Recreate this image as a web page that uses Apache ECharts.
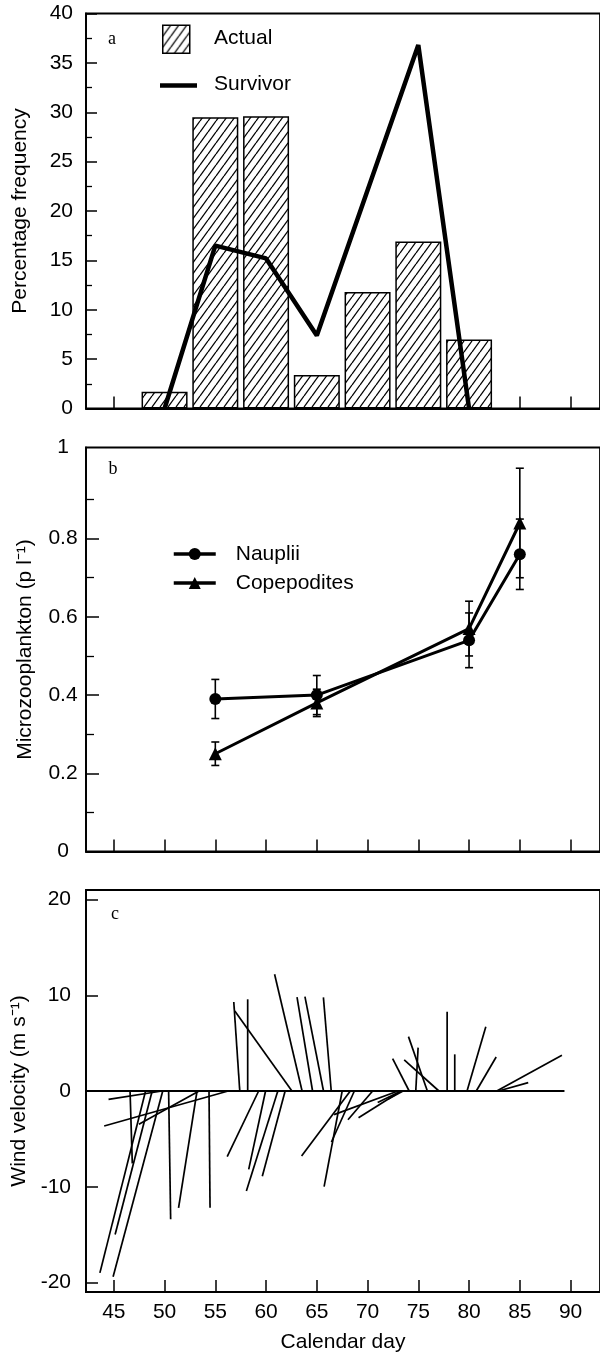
<!DOCTYPE html>
<html>
<head>
<meta charset="utf-8">
<script src="https://cdn.jsdelivr.net/npm/echarts@6/dist/echarts.min.js"></script>
<style>
html,body{margin:0;padding:0;background:#fff;}
#chart{width:600px;height:1354px;}
</style>
</head>
<body>
<div id="chart"></div>
<script>
// ---------- Panel a: percentage frequency ----------
const hatchDays = [50, 55, 60, 65, 70, 75, 80];
const actualPct = [1.7, 29.5, 29.6, 3.4, 11.8, 16.9, 7.0];
const survivorPct = [0, 16.5, 15.2, 7.4, 22.1, 36.8, 0];

// ---------- Panel b: microzooplankton ----------
const microDays = [55, 65, 80, 85];
const naupliiMean = [0.39, 0.40, 0.54, 0.76];
const naupliiErr = [0.05, 0.05, 0.07, 0.09];
const copeMean = [0.25, 0.38, 0.57, 0.84];
const copeErr = [0.03, 0.035, 0.07, 0.14];

// ---------- Panel c: wind sticks (origin day on zero line, tip day, tip speed) ----------
const stickBaseDay  = [49.75, 56.27, 53.4, 46.6, 48.13, 48.78, 49.82, 50.4, 53.2, 54.38,
                       57.41, 58.19, 62.55, 59.27, 59.95, 61.16, 61.88, 63.55, 64.58, 65.66, 66.42,
                       68.3, 67.5, 68.7, 73.0, 70.5, 73.3, 73.3, 73.5,
                       74.1, 75.89, 77.03, 74.75, 77.84, 78.59, 79.8, 80.71, 82.73, 82.9];
const stickTipDay   = [44.48, 44.05, 47.47, 46.82, 43.63, 45.13, 44.93, 50.6, 51.38, 54.48,
                       56.82, 58.19, 56.92, 56.17, 58.29, 58.06, 59.63, 60.84, 63.05, 63.83, 65.65,
                       63.5, 65.72, 66.44, 66.7, 68.07, 69.11, 71.0, 72.0,
                       72.47, 74.03, 73.61, 74.98, 77.84, 78.59, 81.65, 82.67, 89.15, 85.83];
const stickTipSpeed = [-0.87, -3.66, -3.48, -7.56, -19.0, -15.0, -19.4, -13.4, -12.2, -12.2,
                       9.3, 9.58, 8.36, -6.86, -8.19, -10.45, -8.9, 12.2, 9.8, 9.86, 9.78,
                       -6.8, -10.0, -5.33, -2.47, -3.0, -2.79, -1.2, -0.85,
                       3.38, 5.68, 3.24, 4.53, 8.29, 3.83, 6.72, 3.55, 3.73, 0.87];
const zeroLineDays = [42.26, 89.4];

// ---------- tick values ----------
const dayTicks = [45, 50, 55, 60, 65, 70, 75, 80, 85, 90];
const microLabelTicks = [0, 0.2, 0.4, 0.6, 0.8];
const microMinorTicks = [0.1, 0.3, 0.5, 0.7, 0.9];
const windTicks = [-20, -10, 0, 10, 20];

const FONT = "'Liberation Sans', Arial, Helvetica, sans-serif";
const SERIF = "'Liberation Serif', 'Times New Roman', serif";

// hatch pattern
const tile = document.createElement('canvas');
tile.width = 8; tile.height = 11;
(function(){
  const c = tile.getContext('2d');
  c.fillStyle = '#fff'; c.fillRect(0,0,8,11);
  c.strokeStyle = '#000'; c.lineWidth = 1.3;
  [[-8,0],[0,0],[8,0]].forEach(function(o){
    c.beginPath(); c.moveTo(o[0], 11); c.lineTo(o[0]+8, 0); c.stroke();
  });
})();
const hatch = {image: tile, repeat: 'repeat'};

const XMIN = 42.26, XMAX = 92.9;
const gridBase = {left: 86, right: -4, show: true, borderColor: '#000', borderWidth: 1.8, backgroundColor: 'transparent'};

function xAxisFor(idx, showLabels) {
  return {
    type: 'value', gridIndex: idx, min: XMIN, max: XMAX,
    axisLine: {show: true, onZero: false, lineStyle: {color: '#000', width: 1.8}},
    axisTick: {show: true, inside: true, length: 12, customValues: dayTicks, lineStyle: {color: '#000', width: 1.5}},
    axisLabel: {show: showLabels, customValues: dayTicks, margin: 10, color: '#000', fontSize: 21, fontFamily: FONT},
    splitLine: {show: false},
    name: showLabels ? 'Calendar day' : '',
    nameLocation: 'middle', nameGap: 40,
    nameTextStyle: {color: '#000', fontSize: 21, fontFamily: FONT}
  };
}

const chart = echarts.init(document.getElementById('chart'), null, {renderer: 'canvas'});

const option = {
  animation: false,
  backgroundColor: '#fff',
  grid: [
    Object.assign({top: 13.5, height: 395}, gridBase),
    Object.assign({top: 447.5, height: 404}, gridBase),
    Object.assign({top: 890, height: 404}, gridBase)
  ],
  xAxis: [xAxisFor(0, false), xAxisFor(1, false), xAxisFor(2, true)],
  yAxis: [
    {
      type: 'value', gridIndex: 0, min: 0, max: 40, interval: 5, position: 'left',
      axisLine: {show: true, onZero: false, lineStyle: {color: '#000', width: 1.8}},
      axisTick: {show: true, inside: true, length: 11, lineStyle: {color: '#000', width: 1.5}},
      minorTick: {show: true, splitNumber: 2, length: 6, lineStyle: {color: '#000', width: 1.3}},
      axisLabel: {color: '#000', fontSize: 21, fontFamily: FONT, margin: 13},
      splitLine: {show: false},
      name: 'Percentage frequency', nameLocation: 'middle', nameGap: 55,
      nameTextStyle: {color: '#000', fontSize: 21, fontFamily: FONT}
    },
    {
      type: 'value', gridIndex: 1, min: 0, max: 1.033, position: 'left',
      axisLine: {show: true, onZero: false, lineStyle: {color: '#000', width: 1.8}},
      axisTick: {show: true, inside: true, length: 13, customValues: microLabelTicks, lineStyle: {color: '#000', width: 1.5}},
      axisLabel: {
        color: '#000', fontSize: 21, fontFamily: FONT, margin: 23, align: 'center',
        customValues: microLabelTicks.concat([1.033]),
        formatter: function (v) { return v > 1 ? '1' : String(+(+v).toFixed(1)); }
      },
      splitLine: {show: false},
      name: 'Microzooplankton (p l\u207B\u00B9)', nameLocation: 'middle', nameGap: 50,
      nameTextStyle: {color: '#000', fontSize: 21, fontFamily: FONT}
    },
    {
      type: 'value', gridIndex: 1, min: 0, max: 1.033, position: 'left', offset: 0,
      axisLine: {show: false, onZero: false},
      axisTick: {show: true, inside: true, length: 8, customValues: microMinorTicks, lineStyle: {color: '#000', width: 1.3}},
      axisLabel: {show: false},
      splitLine: {show: false}
    },
    {
      type: 'value', gridIndex: 2, min: -21, max: 21, position: 'left',
      axisLine: {show: true, onZero: false, lineStyle: {color: '#000', width: 1.8}},
      axisTick: {show: true, inside: true, length: 12, customValues: windTicks, lineStyle: {color: '#000', width: 1.5}},
      axisLabel: {color: '#000', fontSize: 21, fontFamily: FONT, margin: 15, customValues: windTicks},
      splitLine: {show: false},
      name: 'Wind velocity (m s\u207B\u00B9)', nameLocation: 'middle', nameGap: 52,
      nameTextStyle: {color: '#000', fontSize: 21, fontFamily: FONT}
    }
  ],
  legend: [{
    data: ['Nauplii', 'Copepodites'],
    orient: 'vertical', left: 172, top: 543, padding: 0,
    itemWidth: 42, itemHeight: 15, itemGap: 7,
    lineStyle: {width: 3.5},
    textStyle: {color: '#000', fontSize: 21, fontFamily: FONT, lineHeight: 22, padding: [0, 0, 0, 15]}
  }],
  graphic: [
    {type: 'rect', left: 162, top: 24.5, shape: {width: 27, height: 28},
     style: {fill: hatch, stroke: '#000', lineWidth: 1.5}},
    {type: 'text', x: 214, y: 38, style: {text: 'Actual', fill: '#000', font: '21px ' + FONT, verticalAlign: 'middle'}},
    {type: 'line', shape: {x1: 160, y1: 85.5, x2: 197, y2: 85.5}, style: {stroke: '#000', lineWidth: 4.5}},
    {type: 'text', x: 214, y: 84, style: {text: 'Survivor', fill: '#000', font: '21px ' + FONT, verticalAlign: 'middle'}},
    {type: 'text', x: 112, y: 39, style: {text: 'a', fill: '#000', font: '18px ' + SERIF, align: 'center', verticalAlign: 'middle'}},
    {type: 'text', x: 113, y: 469, style: {text: 'b', fill: '#000', font: '18px ' + SERIF, align: 'center', verticalAlign: 'middle'}},
    {type: 'text', x: 115, y: 914, style: {text: 'c', fill: '#000', font: '18px ' + SERIF, align: 'center', verticalAlign: 'middle'}}
  ],
  series: [
    {
      name: 'Actual', type: 'bar', xAxisIndex: 0, yAxisIndex: 0, barWidth: 46,
      data: hatchDays.map(function (d, i) { return [d, actualPct[i]]; }),
      itemStyle: {color: hatch, borderColor: '#000', borderWidth: 1.5},
      z: 2
    },
    {
      name: 'Survivor', type: 'line', xAxisIndex: 0, yAxisIndex: 0, symbol: 'none',
      data: hatchDays.map(function (d, i) { return [d, survivorPct[i]]; }),
      lineStyle: {color: '#000', width: 4.5}, z: 3
    },
    {
      type: 'custom', xAxisIndex: 1, yAxisIndex: 1,
      data: microDays.map(function (d, i) { return [d, naupliiMean[i] - naupliiErr[i], naupliiMean[i] + naupliiErr[i]]; })
        .concat(microDays.map(function (d, i) { return [d, copeMean[i] - copeErr[i], copeMean[i] + copeErr[i]]; })),
      encode: {x: 0, y: [1, 2]},
      renderItem: function (params, api) {
        const lo = api.coord([api.value(0), api.value(1)]);
        const hi = api.coord([api.value(0), api.value(2)]);
        const st = {stroke: '#000', lineWidth: 1.6};
        return {type: 'group', children: [
          {type: 'line', shape: {x1: lo[0], y1: lo[1], x2: hi[0], y2: hi[1]}, style: st},
          {type: 'line', shape: {x1: lo[0] - 4, y1: lo[1], x2: lo[0] + 4, y2: lo[1]}, style: st},
          {type: 'line', shape: {x1: hi[0] - 4, y1: hi[1], x2: hi[0] + 4, y2: hi[1]}, style: st}
        ]};
      }
    },
    {
      name: 'Nauplii', type: 'line', xAxisIndex: 1, yAxisIndex: 1,
      symbol: 'circle', symbolSize: 12,
      data: microDays.map(function (d, i) { return [d, naupliiMean[i]]; }),
      lineStyle: {color: '#000', width: 3}, itemStyle: {color: '#000'}, z: 3
    },
    {
      name: 'Copepodites', type: 'line', xAxisIndex: 1, yAxisIndex: 1,
      symbol: 'triangle', symbolSize: 13,
      data: microDays.map(function (d, i) { return [d, copeMean[i]]; }),
      lineStyle: {color: '#000', width: 3}, itemStyle: {color: '#000'}, z: 3
    },
    {
      type: 'line', xAxisIndex: 2, yAxisIndex: 3, symbol: 'none', silent: true,
      data: zeroLineDays.map(function (d) { return [d, 0]; }),
      lineStyle: {color: '#000', width: 2}
    },
    {
      type: 'custom', xAxisIndex: 2, yAxisIndex: 3,
      data: stickBaseDay.map(function (d, i) { return [d, stickTipDay[i], stickTipSpeed[i]]; }),
      encode: {x: [0, 1], y: 2},
      renderItem: function (params, api) {
        const p0 = api.coord([api.value(0), 0]);
        const p1 = api.coord([api.value(1), api.value(2)]);
        return {type: 'line', shape: {x1: p0[0], y1: p0[1], x2: p1[0], y2: p1[1]},
                style: {stroke: '#000', lineWidth: 1.7}};
      }
    }
  ]
};
chart.setOption(option);
</script>
</body>
</html>
